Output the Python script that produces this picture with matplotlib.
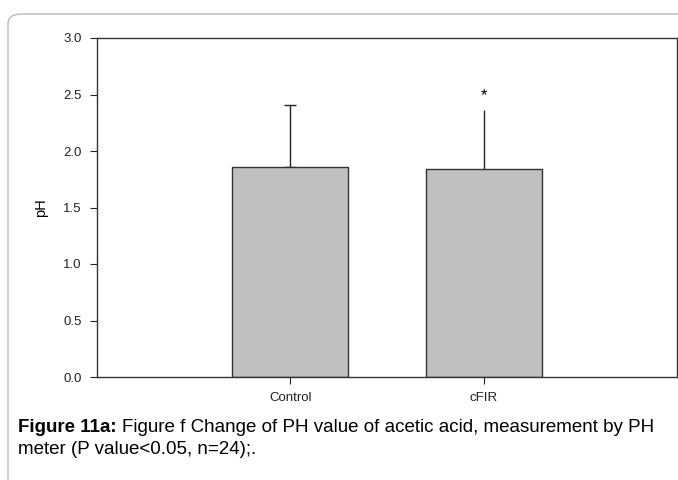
import matplotlib
matplotlib.use("Agg")
import matplotlib.pyplot as plt
from matplotlib.patches import FancyBboxPatch

# data
groups = ["Control", "cFIR"]
means = [1.86, 1.845]
errors = [0.55, 0.52]
caps = [4, 0]
sig_marks = ["", "*"]

plt.rcParams["font.family"] = ["Liberation Sans", "DejaVu Sans"]

fig = plt.figure(figsize=(6.78, 4.8), dpi=100)

# rounded frame around the figure panel
frame = FancyBboxPatch((8 / 678, -0.1), 1.2, 1 - 14 / 480 + 0.1,
                       boxstyle="round,pad=0,rounding_size=0.02",
                       transform=fig.transFigure, facecolor="none",
                       edgecolor="#b8b8b8", linewidth=1.0, zorder=0)
fig.patches.append(frame)

ax = fig.add_axes([97 / 678, 1 - 377 / 480, 580 / 678, 339 / 480])
x = [1, 2]
ax.bar(x, means, width=0.6, color="#c0c0c0", edgecolor="#333333",
       linewidth=1.0, zorder=2)
for xi, m, e, c, s in zip(x, means, errors, caps, sig_marks):
    ax.errorbar([xi], [m], yerr=[[0], [e]], fmt="none", ecolor="#222222",
                elinewidth=1.0, capsize=c, capthick=1.0, zorder=1)
    if s:
        ax.text(xi, m + e + 0.06, s, ha="center", va="bottom", fontsize=12)

ax.set_xlim(0, 3)
ax.set_ylim(0, 3.0)
ax.set_xticks(x)
ax.set_xticklabels(groups, fontsize=9.5)
ax.set_yticks([0, 0.5, 1.0, 1.5, 2.0, 2.5, 3.0])
ax.set_yticklabels(["0.0", "0.5", "1.0", "1.5", "2.0", "2.5", "3.0"], fontsize=9.5)
ax.tick_params(direction="out", length=5, width=0.8, colors="#222222", pad=6)
ax.tick_params(axis="x", pad=6)
ax.set_ylabel("pH", fontsize=10.5, labelpad=11)
for sp in ax.spines.values():
    sp.set_color("#333333")
    sp.set_linewidth(1.0)

cap1 = fig.text(18 / 678, 1 - 428 / 480, "Figure 11a:", fontsize=13.5,
                fontweight="bold", va="center")
fig.canvas.draw()
bb = cap1.get_window_extent()
fig.text((bb.x1 + 5) / 678, 1 - 428 / 480,
         "Figure f Change of PH value of acetic acid, measurement by PH",
         fontsize=13.5, va="center")
fig.text(18 / 678, 1 - 450 / 480, "meter (P value<0.05, n=24);.",
         fontsize=13.5, va="center")

fig.savefig("out.png", dpi=100)
